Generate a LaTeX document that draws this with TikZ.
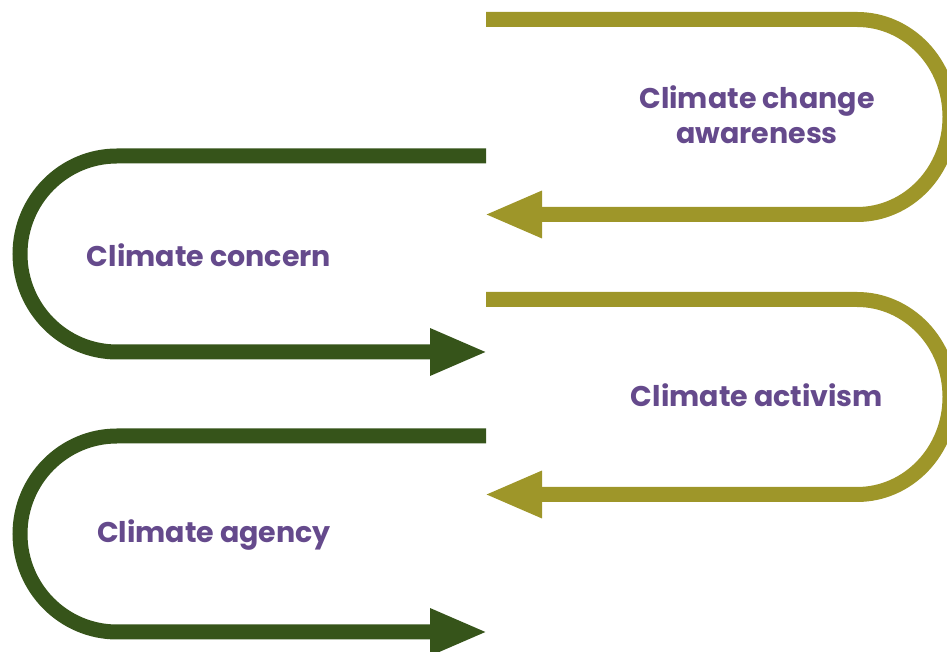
\documentclass[tikz,border=0pt]{standalone}
\usepackage{fontspec}
\setmainfont{Poppins}
\usetikzlibrary{arrows.meta}
\definecolor{flowolive}{HTML}{9E9629}
\definecolor{flowgreen}{HTML}{36541A}
\definecolor{stagepurple}{HTML}{654A8C}
\tikzset{
  flowline/.style={line width=15pt, -{Triangle[length=58pt, width=43pt]}},
  oliveflow/.style={flowline, draw=flowolive},
  greenflow/.style={flowline, draw=flowgreen},
  stagelabel/.style={text=stagepurple, font=\fontsize{28.5}{35}\selectfont\bfseries, align=center, inner sep=0pt}
}
\begin{document}
\begin{tikzpicture}[x=1pt, y=1pt]
\useasboundingbox (0,0) rectangle (947,652);
\clip (0,0) rectangle (947,652);
% start and end points of the four loops
\coordinate (awareIn) at (486,632.5);
\coordinate (awareOut) at (484,437.5);
\coordinate (concernIn) at (486,496);
\coordinate (concernOut) at (488,300);
\coordinate (activIn) at (486,352.5);
\coordinate (activOut) at (484,157.5);
\coordinate (agencyIn) at (486,216);
\coordinate (agencyOut) at (488,20);
% loops turning right
\draw[oliveflow] (awareIn) -- (857,632.5) arc[start angle=90, end angle=-90, x radius=93, y radius=97.5] -- (awareOut);
\draw[oliveflow] (activIn) -- (857,352.5) arc[start angle=90, end angle=-90, x radius=93, y radius=97.5] -- (activOut);
% loops turning left
\draw[greenflow] (concernIn) -- (117,496) arc[start angle=90, end angle=270, x radius=97, y radius=98] -- (concernOut);
\draw[greenflow] (agencyIn) -- (117,216) arc[start angle=90, end angle=270, x radius=97, y radius=98] -- (agencyOut);
% stage names
\node[stagelabel] (aware) at (757,537) {Climate change\\awareness};
\node[stagelabel, anchor=base] (concern) at (209,385) {Climate concern};
\node[stagelabel, anchor=base] (activ) at (757,245) {Climate activism};
\node[stagelabel, anchor=base] (agency) at (214,109) {Climate agency};
\end{tikzpicture}
\end{document}
